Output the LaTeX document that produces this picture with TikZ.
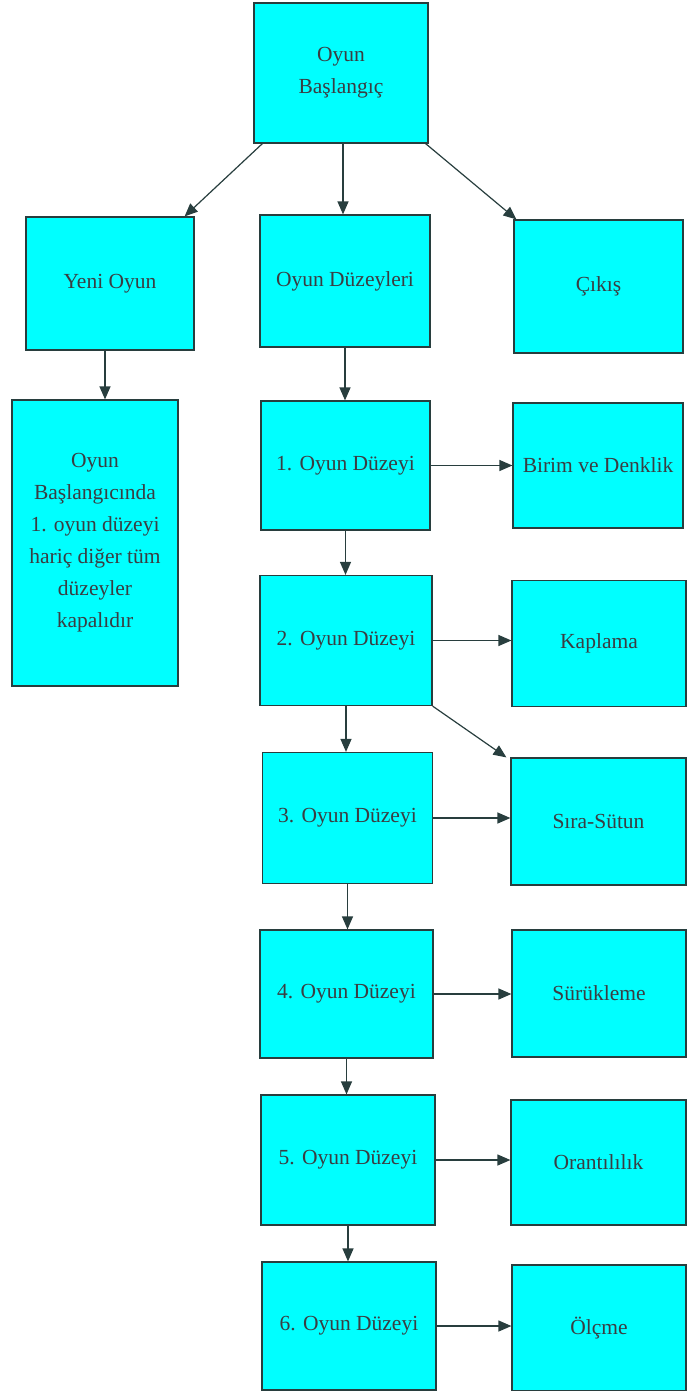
\documentclass[tikz,border=0pt]{standalone}
\usepackage{fontspec}
\setmainfont{LiberationSerif}[Extension=.ttf, UprightFont=*-Regular, BoldFont=*-Bold]
\usetikzlibrary{arrows.meta}
\definecolor{turkuaz}{RGB}{0,255,255}
\definecolor{cizgi}{RGB}{40,62,62}

\begin{document}
\begin{tikzpicture}[x=1pt,y=-1pt,
  kutu/.style={draw=cizgi, line width=1.2pt, fill=turkuaz, inner sep=0pt, align=center,
    font=\fontsize{21.5}{32}\selectfont, text=black!85!cyan},
  ok/.style={draw=cizgi, line width=1.2pt, -{Triangle[length=13pt,width=11pt]}}]
\useasboundingbox (0,0) rectangle (686,1391);

\node[kutu, minimum width=174pt, minimum height=140pt] (bas) at (341,73) {Oyun\\Başlangıç};
\node[kutu, minimum width=168pt, minimum height=133pt] (yeni) at (110,283.5) {Yeni Oyun};
\node[kutu, minimum width=170pt, minimum height=132pt] (duz) at (345,281) {Oyun Düzeyleri};
\node[kutu, minimum width=169pt, minimum height=133pt] (cikis) at (598.5,286.5) {Çıkış};
\node[kutu, minimum width=166pt, minimum height=286pt] (bilgi) at (95,543)
  {Oyun\\Başlangıcında\\1. oyun düzeyi\\hariç diğer tüm\\düzeyler\\kapalıdır};

% oyun duzeyleri
\node[kutu, minimum width=169pt, minimum height=129pt] (l1) at (345.5,465.5) {1. Oyun Düzeyi};
\node[kutu, minimum width=172pt, minimum height=130pt] (l2) at (346,640.5) {2. Oyun Düzeyi};
\node[kutu, minimum width=170pt, minimum height=131pt] (l3) at (347.5,818) {3. Oyun Düzeyi};
\node[kutu, minimum width=173pt, minimum height=128pt] (l4) at (346.5,994) {4. Oyun Düzeyi};
\node[kutu, minimum width=174pt, minimum height=130pt] (l5) at (348,1160) {5. Oyun Düzeyi};
\node[kutu, minimum width=174pt, minimum height=128pt] (l6) at (349,1326) {6. Oyun Düzeyi};

% konular
\node[kutu, minimum width=170pt, minimum height=125pt] (birim) at (598,465.5) {Birim ve Denklik};
\node[kutu, minimum width=174pt, minimum height=126pt] (kaplama) at (599,643.5) {Kaplama};
\node[kutu, minimum width=175pt, minimum height=127pt] (sira) at (598.5,821.5) {Sıra-Sütun};
\node[kutu, minimum width=174pt, minimum height=127pt] (suruk) at (599,993.5) {Sürükleme};
\node[kutu, minimum width=175pt, minimum height=125pt] (oran) at (598.5,1162.5) {Orantılılık};
\node[kutu, minimum width=174pt, minimum height=126pt] (olcme) at (599,1328) {Ölçme};

\draw[ok] ([xshift=9pt]bas.south west) -- ([xshift=-10pt]yeni.north east);
\draw[ok] ([xshift=2pt]bas.south) -- ([xshift=2pt]bas.south |- duz.north);
\draw[ok] ([xshift=-3pt]bas.south east) -- ([xshift=3pt]cikis.north west);
\draw[ok] ([xshift=-5pt]yeni.south) -- ([xshift=-5pt]yeni.south |- bilgi.north);

\draw[ok] (duz.south) -- (duz.south |- l1.north);
\draw[ok] (l1.south) -- (l1.south |- l2.north);
\draw[ok] (l2.south) -- (l2.south |- l3.north);
\draw[ok] (l3.south) -- (l3.south |- l4.north);
\draw[ok] (l4.south) -- (l4.south |- l5.north);
\draw[ok] (l5.south) -- (l5.south |- l6.north);

\draw[ok] (l1.east) -- (l1.east -| birim.west);
\draw[ok] (l2.east) -- (l2.east -| kaplama.west);
\draw[ok] (l2.south east) -- ([xshift=-4pt]sira.north west);
\draw[ok] (l3.east) -- (l3.east -| sira.west);
\draw[ok] (l4.east) -- (l4.east -| suruk.west);
\draw[ok] (l5.east) -- (l5.east -| oran.west);
\draw[ok] (l6.east) -- (l6.east -| olcme.west);
\end{tikzpicture}
\end{document}
